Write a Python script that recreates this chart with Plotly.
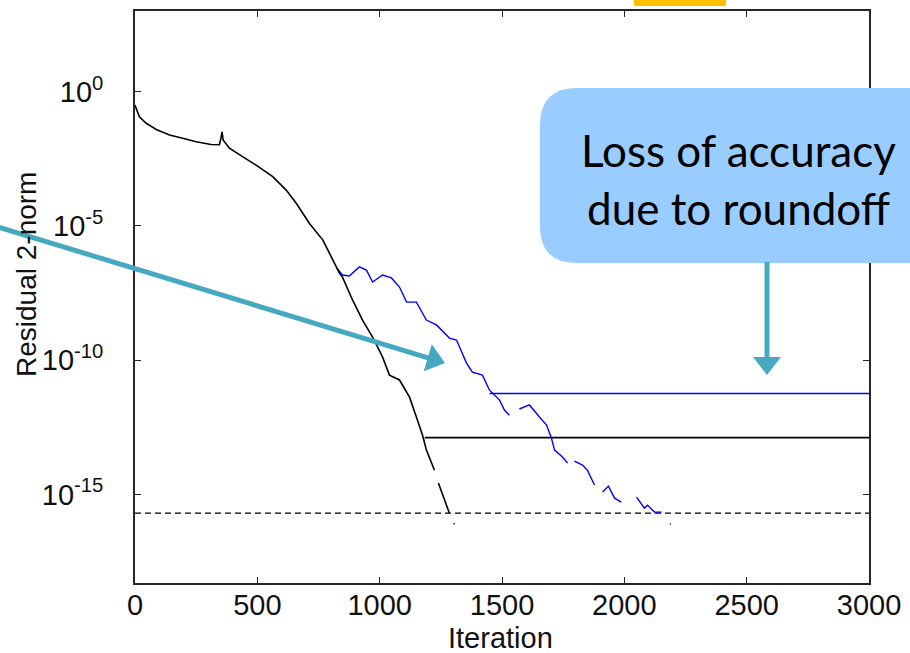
import plotly.graph_objects as go

# ---------------- data (log10 of residual 2-norm) ----------------
black_iter = [0, 2, 18, 46, 87, 141, 195, 250, 311, 345, 352, 356, 360, 366, 386, 441, 495, 563, 618,
              659, 713, 768, 808, 836, 848, 889, 930, 971, 1012, 1040, 1081, 1122, 1150, 1175, 1191,
              1224, None, 1240, 1285, None, 1302, 1306]
black_log = [-0.50, -0.56, -0.94, -1.18, -1.41, -1.62, -1.74, -1.87, -1.97, -1.98, -1.70, -1.50, -1.80,
             -1.87, -2.11, -2.43, -2.74, -3.17, -3.67, -4.16, -4.91, -5.53, -6.27, -6.77, -6.91, -7.76,
             -8.51, -9.14, -9.89, -10.56, -10.74, -11.38, -12.12, -12.79, -13.35, -14.10, None, -14.58,
             -15.70, None, -16.08, -16.11]

blue_iter = [824, 848, 876, 917, 946, 971, 1012, 1048, 1081, 1110, 1150, 1191, 1232, 1285, 1314, 1355,
             1379, 1420, 1449, 1461, 1490, 1510, 1530, None, 1571, 1612, 1653, 1682, 1702, 1715, 1747,
             1768, None, 1796, 1829, 1849, 1878, None, 1911, 1935, 1960, 1988, None, 2050, 2082, 2095,
             2123, 2152, None, 2186, 2190]
blue_log = [-6.57, -6.83, -6.87, -6.53, -6.65, -7.09, -6.83, -6.94, -7.28, -7.84, -7.84, -8.51, -8.69,
            -9.18, -9.25, -10.11, -10.45, -10.56, -11.12, -11.23, -11.49, -11.86, -12.05, None, -11.82,
            -11.67, -12.12, -12.42, -12.90, -13.35, -13.61, -13.83, None, -13.76, -13.91, -14.10, -14.65,
            None, -14.91, -14.69, -15.14, -15.29, None, -15.10, -15.51, -15.40, -15.66, -15.66, None,
            -16.09, -16.11]

black_plateau_iter = [1184, 3000]
black_plateau_log = [-12.89, -12.89]
blue_plateau_iter = [1449, 3000]
blue_plateau_log = [-11.24, -11.24]
eps_iter = [0, 3000]
eps_value = [2e-16, 2e-16]

x_ticks = [0, 500, 1000, 1500, 2000, 2500, 3000]
y_tick_exp = [0, -5, -10, -15]
y_tick_text = ["10<sup>0</sup>", "10<sup>-5</sup>", "10<sup>-10</sup>", "10<sup>-15</sup>"]

callout_lines = ["Loss of accuracy", "due to roundoff"]


def to_val(logs):
    return [None if v is None else 10 ** v for v in logs]


# ---------------- figure ----------------
W, H = 910, 653
ML, MR, MT, MB = 135, 41, 11, 70
PW, PH = W - ML - MR, H - MT - MB


def px(x):
    return (x - ML) / PW


def py(y):
    return (MT + PH - y) / PH


fig = go.Figure()
fig.add_trace(go.Scatter(x=eps_iter, y=eps_value, mode="lines",
                         line=dict(color="black", width=1.3, dash="6px,4px"), hoverinfo="skip"))
fig.add_trace(go.Scatter(x=blue_plateau_iter, y=to_val(blue_plateau_log), mode="lines",
                         line=dict(color="#0000ff", width=1.5)))
fig.add_trace(go.Scatter(x=black_plateau_iter, y=to_val(black_plateau_log), mode="lines",
                         line=dict(color="black", width=1.8)))
fig.add_trace(go.Scatter(x=blue_iter, y=to_val(blue_log), mode="lines",
                         line=dict(color="#0000ff", width=1.4), connectgaps=False))
fig.add_trace(go.Scatter(x=black_iter, y=to_val(black_log), mode="lines",
                         line=dict(color="black", width=1.6), connectgaps=False))

teal = "#47A9C1"
shapes = []
# rounded callout box
x0, x1, y0, y1, r = 540, 960, 88, 263, 37
path = (f"M{px(x0 + r)},{py(y0)} L{px(x1)},{py(y0)} L{px(x1)},{py(y1)} L{px(x0 + r)},{py(y1)} "
        f"Q{px(x0)},{py(y1)} {px(x0)},{py(y1 - r)} L{px(x0)},{py(y0 + r)} "
        f"Q{px(x0)},{py(y0)} {px(x0 + r)},{py(y0)} Z")
shapes.append(dict(type="path", xref="paper", yref="paper", path=path,
                   fillcolor="#99CCFF", line=dict(width=0), layer="above"))


def arrow(sx, sy, tx, ty, hl=18, hw=14, lw=5):
    dx, dy = tx - sx, ty - sy
    L = (dx * dx + dy * dy) ** 0.5
    ux, uy = dx / L, dy / L
    bx, by = tx - hl * ux, ty - hl * uy
    nx, ny = -uy, ux
    out = [dict(type="line", xref="paper", yref="paper", x0=px(sx), y0=py(sy),
                x1=px(bx + 2 * ux), y1=py(by + 2 * uy), line=dict(color=teal, width=lw), layer="above")]
    tri = (f"M{px(tx)},{py(ty)} L{px(bx + hw * nx)},{py(by + hw * ny)} "
           f"L{px(bx - hw * nx)},{py(by - hw * ny)} Z")
    out.append(dict(type="path", xref="paper", yref="paper", path=tri, fillcolor=teal,
                    line=dict(width=0), layer="above"))
    return out


shapes += arrow(-5, 226, 445, 363)
shapes += arrow(767, 262, 767, 375)
# orange highlight box at top edge (title cut off)
shapes.append(dict(type="rect", xref="paper", yref="paper", x0=px(634), x1=px(726), y0=py(6), y1=py(-5),
                   fillcolor="#FFC000", line=dict(width=0), layer="above"))

annotations = [
    dict(text=callout_lines[0], x=px(738), y=py(150), xref="paper", yref="paper", showarrow=False,
         xanchor="center", yanchor="middle", font=dict(family="Lato, Noto Sans", size=44, color="black")),
    dict(text=callout_lines[1], x=px(738), y=py(208), xref="paper", yref="paper", showarrow=False,
         xanchor="center", yanchor="middle", font=dict(family="Lato, Noto Sans", size=44, color="black")),
    dict(text="Iteration", x=px(500), y=py(638), xref="paper", yref="paper", showarrow=False,
         xanchor="center", yanchor="middle", font=dict(family="Liberation Sans, Arial", size=29, color="#111")),
    dict(text="Residual 2-norm", x=px(26), y=py(275), xref="paper", yref="paper", showarrow=False,
         textangle=-90, xanchor="center", yanchor="middle",
         font=dict(family="Liberation Sans, Arial", size=28, color="#111")),
]

axis_common = dict(showline=True, linecolor="#262626", linewidth=1.6, mirror="ticks", ticks="inside",
                   ticklen=6, tickwidth=1.4, tickcolor="#262626", showgrid=False, zeroline=False,
                   tickfont=dict(family="Liberation Sans, Arial", size=29, color="#111"))

fig.update_layout(
    width=W, height=H, margin=dict(l=ML, r=MR, t=MT, b=MB, autoexpand=False),
    paper_bgcolor="white", plot_bgcolor="white", showlegend=False,
    xaxis=dict(range=[0, 3000], tickvals=x_ticks, ticktext=[str(v) for v in x_ticks],
               ticklabelstandoff=-5, **axis_common),
    yaxis=dict(type="log", range=[-18.3, 3.0], tickvals=[10 ** e for e in y_tick_exp],
               ticktext=y_tick_text, ticklabelstandoff=24, **axis_common),
    shapes=shapes, annotations=annotations,
)

fig.write_html("out.html")
